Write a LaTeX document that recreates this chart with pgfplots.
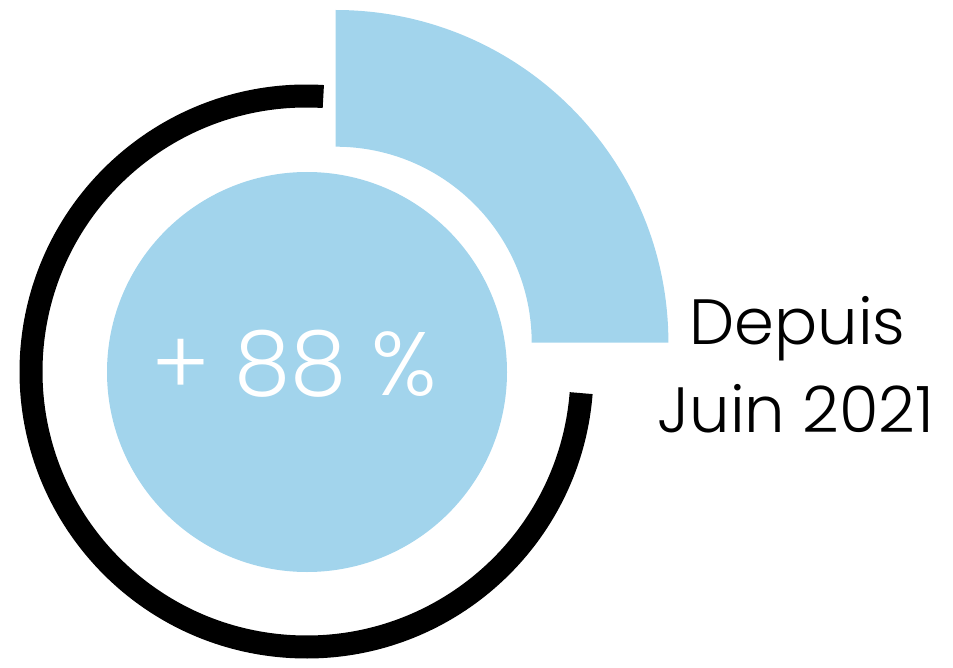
\documentclass[border=0pt]{standalone}
\usepackage{pgfplots}
\pgfplotsset{compat=1.18}
\usepackage{fontspec}
\setmainfont{Poppins Light}
\definecolor{lblue}{RGB}{162,212,236}
\begin{document}
\begin{tikzpicture}
\begin{axis}[x=1pt,y=1pt,xmin=0,xmax=953,ymin=0,ymax=663,hide axis,clip=false]
\path (axis cs:0,0) rectangle (axis cs:953,663);
% exploded quarter sector
\fill[lblue] (axis cs:335.7,320.3) ++(0:332.7pt) arc[start angle=0,end angle=90,radius=332.7pt]
  -- ++(0,-136.7pt) arc[start angle=90,end angle=0,radius=196pt] -- cycle;
% black ring (remaining part)
\draw[line width=23pt,black] (axis cs:306.5,291.5) ++(86.5:275.5pt) arc[start angle=86.5,end angle=355.5,radius=275.5pt];
% inner disc
\fill[lblue] (axis cs:307,291) circle[radius=200pt];
\node[anchor=base,text=white,inner sep=0pt,font=\fontsize{90}{100}\selectfont] at (axis cs:294,268) {+ 88 \%};
\node[anchor=base,inner sep=0pt,font=\fontsize{64}{88}\selectfont] at (axis cs:797.5,319) {Depuis};
\node[anchor=base,inner sep=0pt,font=\fontsize{64}{88}\selectfont] at (axis cs:796,230.3) {Juin 2021};
\end{axis}
\end{tikzpicture}
\end{document}
